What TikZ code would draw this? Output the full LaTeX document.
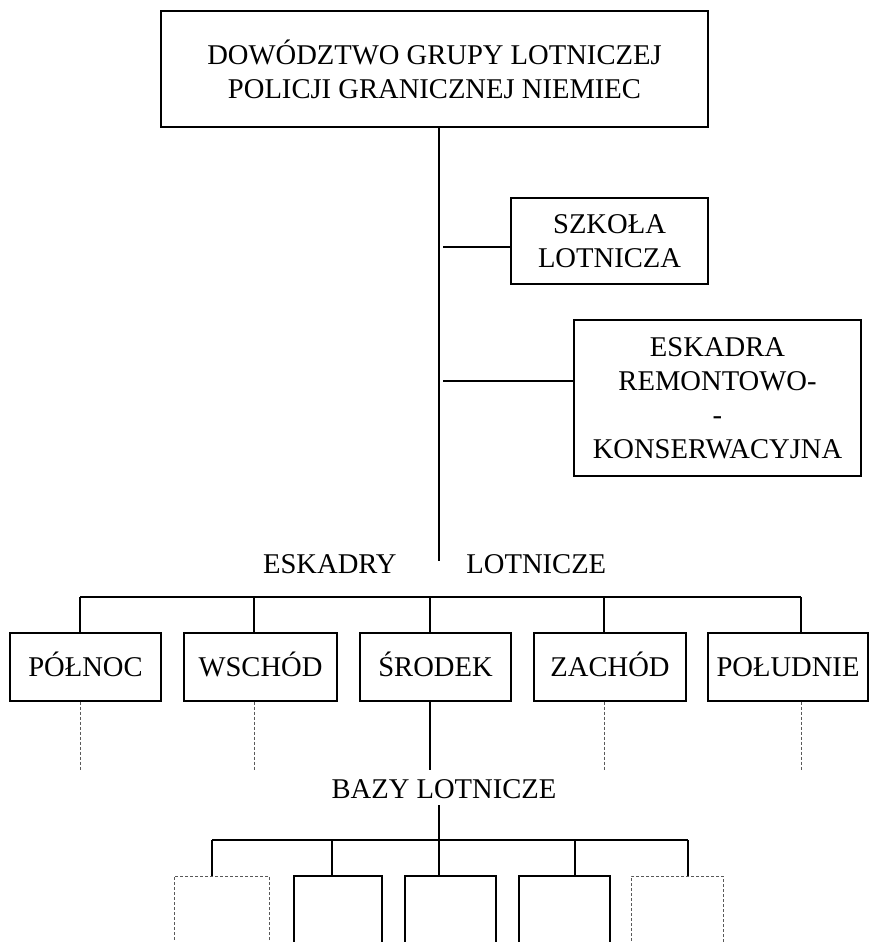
\documentclass[tikz,border=0pt]{standalone}
\usepackage{fontspec}
\setmainfont{Liberation Serif}

\tikzset{
  unit/.style={draw, line width=0.65pt, inner sep=0pt, align=center,
    font=\fontsize{14.3}{17}\selectfont},
  faintbox/.style={draw=black!65, line width=0.35pt, inner sep=0pt,
    dash pattern=on 1.5pt off 1pt},
  lbl/.style={inner sep=0pt, font=\fontsize{14.3}{17}\selectfont},
  link/.style={line width=0.65pt},
  faint/.style={draw=black!65, line width=0.35pt, dash pattern=on 1.5pt off 1pt},
}

\begin{document}
\begin{tikzpicture}[x=0.5pt, y=-0.5pt]
\useasboundingbox (0,0) rectangle (870,942);
\clip (0,0) rectangle (870,942);

%%%%%%%%%%%% Command
\node[unit, minimum width=273.5pt, minimum height=58pt] (cmd) at (434.5,69)
  {DOWÓDZTWO GRUPY LOTNICZEJ\\POLICJI GRANICZNEJ NIEMIEC};
\node[unit, minimum width=98.5pt, minimum height=43pt] (school) at (609.5,241)
  {SZKOŁA\\LOTNICZA};
\node[unit, minimum width=143.5pt, minimum height=78pt] (repair) at (717.5,398)
  {ESKADRA\\REMONTOWO-\\-\\KONSERWACYJNA};

\coordinate (trunk) at (439,561);
\draw[link] (cmd.south -| trunk) -- (trunk);
\draw[link] (trunk |- 0,247) ++(4,0) -- (school.west |- 0,247);
\draw[link] (trunk |- 0,381) ++(4,0) -- (repair.west |- 0,381);

\node[lbl, anchor=base east] (esk) at (397,573) {ESKADRY};
\node[lbl, anchor=base west] (lot) at (466,573) {LOTNICZE};

%%%%%%%%%%%% Squadrons
\foreach \name/\txt/\cx/\w/\sx in {pln/PÓŁNOC/85.5/75.5/80, wsch/WSCHÓD/260.5/76.5/254,
    srd/ŚRODEK/435.5/75.5/430, zach/ZACHÓD/610/76/604, pld/POŁUDNIE/788/80/801} {
  \node[unit, minimum width=\w pt, minimum height=34pt, text height=9.5pt,
    text depth=0pt] (\name) at (\cx,667) {\txt};
  \coordinate (\name-s) at (\sx,597);
  \draw[link] (\name-s) -- (\name-s |- \name.north);
}
\draw[link] (pln-s) -- (pld-s);

\foreach \name in {pln,wsch,zach,pld}
  \draw[faint] (\name-s |- \name.south) -- (\name-s |- 0,770);
\draw[link] (srd-s |- srd.south) -- (srd-s |- 0,770);

\node[lbl, anchor=base] (bazy) at (444,798) {BAZY LOTNICZE};

%%%%%%%%%%%% Bases
\coordinate (lb) at (439,840);
\draw[link] (lb |- 0,805) -- (lb);
\foreach \name/\cx/\w/\sx/\sty in {b1/221.5/47.5/212/faintbox, b2/338/44/332/unit,
    b3/450.5/45.5/439/unit, b4/564.5/45.5/575/unit, b5/677/46/688/faintbox} {
  \node[\sty, minimum width=\w pt, minimum height=42pt] (\name) at (\cx,918) {};
  \coordinate (\name-s) at (\sx,840);
  \draw[link] (\name-s) -- (\name-s |- \name.north);
}
\draw[link] (b1-s) -- (b5-s);
\end{tikzpicture}
\end{document}
